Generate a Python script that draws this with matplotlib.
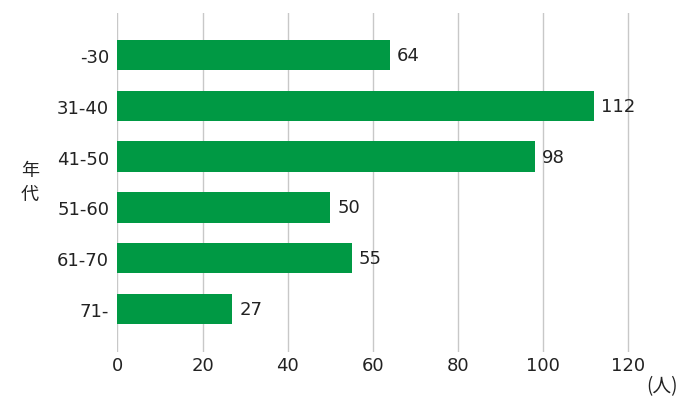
import matplotlib
matplotlib.use("Agg")
import matplotlib.pyplot as plt

plt.rcParams['font.family'] = ['DejaVu Sans', 'Noto Sans CJK JP']

# data
ages = ['-30', '31-40', '41-50', '51-60', '61-70', '71-']
people = [64, 112, 98, 50, 55, 27]
xticks = [0, 20, 40, 60, 80, 100, 120]

green = '#009944'
txt = '#222222'

fig = plt.figure(figsize=(6.98, 4.10), dpi=100)
# x range goes a bit past 120 so the last gridline is drawn
ax = fig.add_axes([0.1683, 0.139, 0.9613 - 0.1683, 0.9659 - 0.139])

ypos = list(range(len(ages)))
bars = ax.barh(ypos, people, height=0.6, color=green, zorder=3)

for b, v in zip(bars, people):
    ax.annotate(str(v), (b.get_width(), b.get_y() + b.get_height() / 2),
                xytext=(5, 0), textcoords='offset points',
                ha='left', va='center', fontsize=13, color=txt,
                annotation_clip=False)

ax.set_xlim(0, 130)
ax.set_ylim(5.85, -0.83)
ax.set_yticks(ypos)
ax.set_yticklabels(ages)
ax.set_xticks(xticks)
ax.xaxis.grid(True, color='#c8c8c8', linewidth=1, zorder=0)
ax.tick_params(axis='both', length=0, labelsize=13, colors=txt)
ax.tick_params(axis='y', pad=6)
ax.tick_params(axis='x', pad=3)
for s in ax.spines.values():
    s.set_visible(False)

fig.text(30 / 698, 1 - 183 / 410, '年\n代', ha='center', va='center',
         fontsize=13, linespacing=1.45, color=txt,
         family=['Noto Sans CJK JP', 'DejaVu Sans'])
fig.text(678 / 698, 1 - 387 / 410, '(人)', ha='right', va='center',
         fontsize=13.5, color=txt, family=['Noto Sans CJK JP', 'DejaVu Sans'])

fig.savefig('out.png', dpi=100)
